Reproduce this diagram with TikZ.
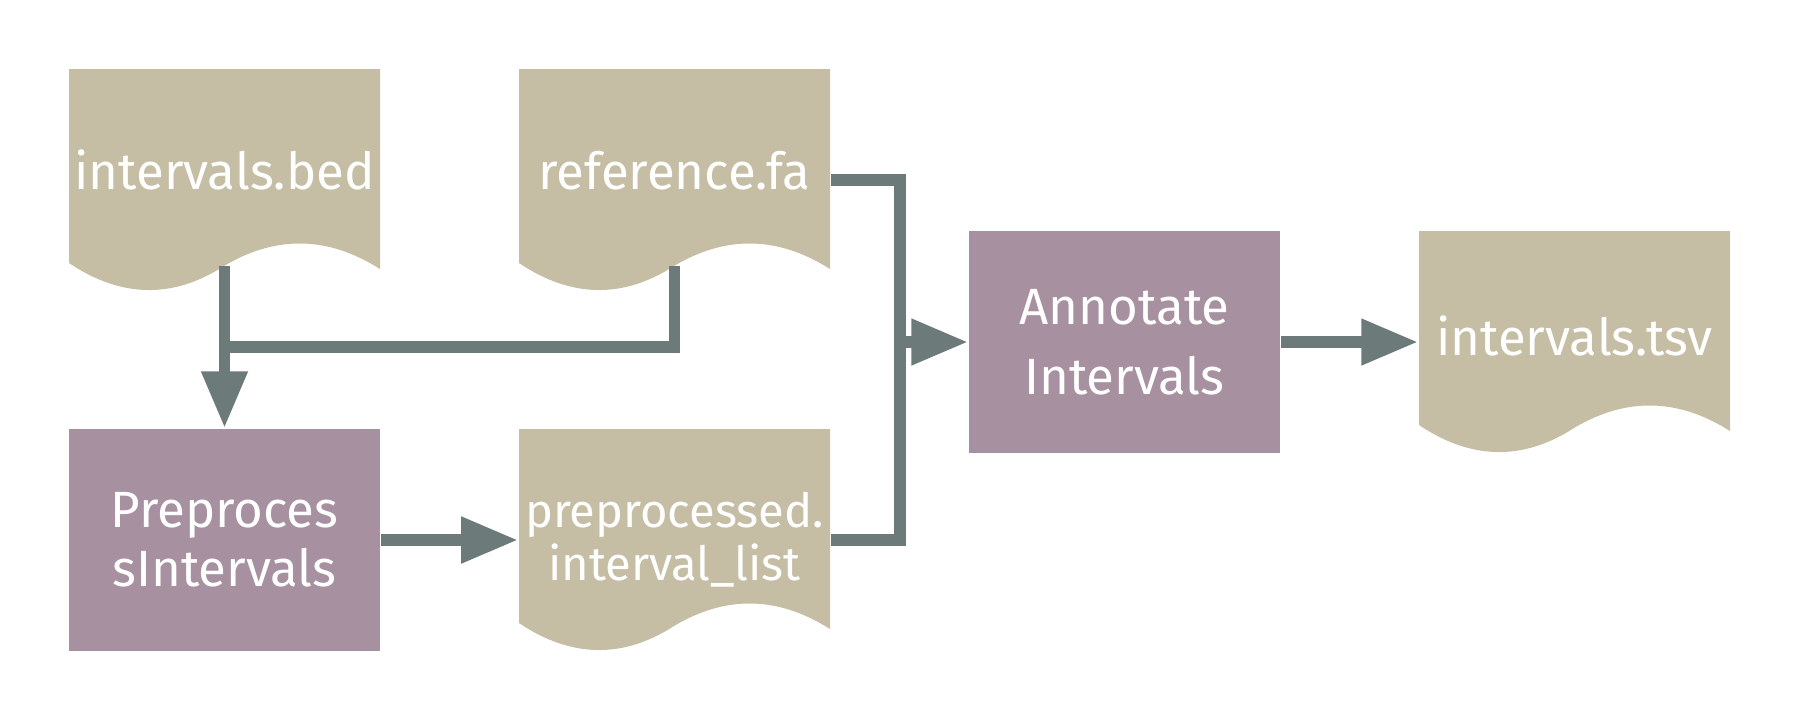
\documentclass[tikz,border=0pt]{standalone}
\usepackage{fontspec}
\setmainfont{Fira Sans}
\usetikzlibrary{arrows.meta,backgrounds}
\definecolor{docc}{HTML}{C5BEA5}
\definecolor{procc}{HTML}{A7909F}
\definecolor{linec}{HTML}{6C7B79}
\newcommand\docwave[1]{%
  \begin{scope}[on background layer, shift={(#1.center)}]
    \fill[docc] (-155.5,-111) -- (155.5,-111) -- (155.5,89)
      .. controls (103.5,56) and (51.5,55) .. (-0.5,86)
      .. controls (-51.5,119) and (-103.5,118) .. (-155.5,83) -- cycle;
  \end{scope}}
\begin{document}
\begin{tikzpicture}[x=0.01cm,y=-0.01cm,
  box/.style={minimum width=3.11cm, minimum height=2.22cm, inner sep=0pt,
    text=white, align=center, font=\fontsize{14.5}{19.9}\selectfont},
  proc/.style={box, fill=procc},
  docbox/.style={box},
  conn/.style={draw=linec, line width=3.4pt},
  arr/.style={conn, -{Triangle[length=16.2pt,width=12.4pt]}}
]
\useasboundingbox (0,0) rectangle (1800,720);

\node[docbox, text depth=0.2cm] (bed) at (224.5,180) {intervals.bed};
\node[docbox, text depth=0.2cm] (ref) at (674.5,180) {reference.fa};
\node[proc, font=\fontsize{14.5}{16.8}\selectfont] (pre) at (224.5,540) {Preproces\\sIntervals};
\node[docbox, text depth=0.08cm, font=\fontsize{13.4}{15}\selectfont] (plist) at (674.5,540) {preprocessed.\\interval\_list};
\node[proc] (ann) at (1124.5,342) {Annotate\\Intervals};
\node[docbox, text depth=0.12cm] (tsv) at (1574.5,342) {intervals.tsv};

\docwave{bed}
\docwave{ref}
\docwave{plist}
\docwave{tsv}

\coordinate (bedout) at ([yshift=0.26cm]bed.south);
\coordinate (refout) at ([yshift=0.26cm]ref.south);
\coordinate (join) at (bedout |- 0,347);
\coordinate (bus) at (900,342);

\draw[arr] (bedout) -- (pre.north);
\draw[conn] (refout) |- (join);
\draw[arr] (pre.east) -- (plist.west);
\draw[conn] (ref.east) -| (bus) |- (plist.east);
\draw[arr] (bus) -- (ann.west);
\draw[arr] (ann.east) -- (tsv.west);
\end{tikzpicture}
\end{document}
